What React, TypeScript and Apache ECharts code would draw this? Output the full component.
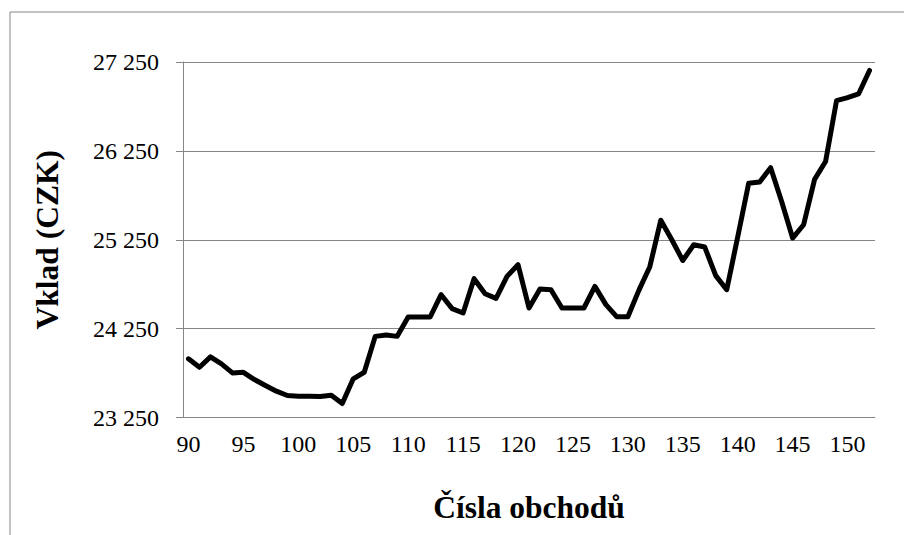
import React, { useEffect, useRef } from "react";
import * as echarts from "echarts";

const categories: string[] = [];
for (let c = 90; c <= 152; c++) categories.push(String(c));

const deposits: number[] = [
  23910, 23815, 23932, 23853, 23752, 23758, 23677, 23610, 23546, 23497,
  23490, 23490, 23487, 23500, 23407, 23685, 23759, 24163, 24179, 24163,
  24381, 24381, 24381, 24632, 24475, 24426, 24812, 24643, 24590, 24838,
  24969, 24482, 24696, 24688, 24482, 24482, 24482, 24725, 24520, 24383,
  24383, 24680, 24947, 25470, 25250, 25017, 25194, 25168, 24846, 24688,
  25280, 25885, 25900, 26060, 25680, 25269, 25419, 25930, 26130, 26815,
  26850, 26890, 27155,
];

const yMin = 23250;
const yMax = 27250;
const yStep = 1000;

const xTitle = "Čísla obchodů";
const yTitle = "Vklad (CZK)";

const fmt = (v: number) => String(v).replace(/\B(?=(\d{3})+(?!\d))/g, " ");

export default function App() {
  const ref = useRef<HTMLDivElement>(null);
  useEffect(() => {
    if (!ref.current) return;
    const chart = echarts.init(ref.current, undefined, { renderer: "svg" });
    const font = "'Liberation Serif', 'Times New Roman', serif";
    const gray = "#868686";
    chart.setOption({
      animation: false,
      backgroundColor: "#ffffff",
      graphic: [
        {
          type: "rect",
          shape: { x: 10, y: 12, width: 1000, height: 1000 },
          style: { fill: "none", stroke: gray, lineWidth: 1 },
          silent: true,
        },
      ],
      grid: { left: 183, right: 29, top: 62, bottom: 117.5 },
      xAxis: {
        type: "category",
        data: categories,
        boundaryGap: true,
        name: xTitle,
        nameLocation: "middle",
        nameGap: 74,
        nameTextStyle: { fontFamily: font, fontWeight: "bold", fontSize: 31.5, color: "#000" },
        axisLine: { lineStyle: { color: gray, width: 1 } },
        axisTick: { interval: 4, length: 7, lineStyle: { color: gray } },
        axisLabel: { interval: 4, fontFamily: font, fontSize: 24, color: "#000", margin: 14 },
        splitLine: { show: false },
      },
      yAxis: {
        type: "value",
        min: yMin,
        max: yMax,
        interval: yStep,
        name: yTitle,
        nameLocation: "middle",
        nameGap: 120,
        nameRotate: 90,
        nameTextStyle: { fontFamily: font, fontWeight: "bold", fontSize: 31.5, color: "#000" },
        axisLine: { show: true, lineStyle: { color: gray, width: 1 } },
        axisTick: { show: true, length: 7, lineStyle: { color: gray } },
        axisLabel: {
          fontFamily: font,
          fontSize: 24,
          color: "#000",
          margin: 24,
          formatter: (v: number) => fmt(v),
        },
        splitLine: { lineStyle: { color: gray, width: 1 } },
      },
      series: [
        {
          type: "line",
          data: deposits,
          symbol: "none",
          lineStyle: { color: "#000", width: 5, join: "round", cap: "round" },
        },
      ],
    });
    return () => chart.dispose();
  }, []);
  return (
    <div
      ref={ref}
      style={{ position: "absolute", left: 0, top: 0, width: 904, height: 535 }}
    />
  );
}
